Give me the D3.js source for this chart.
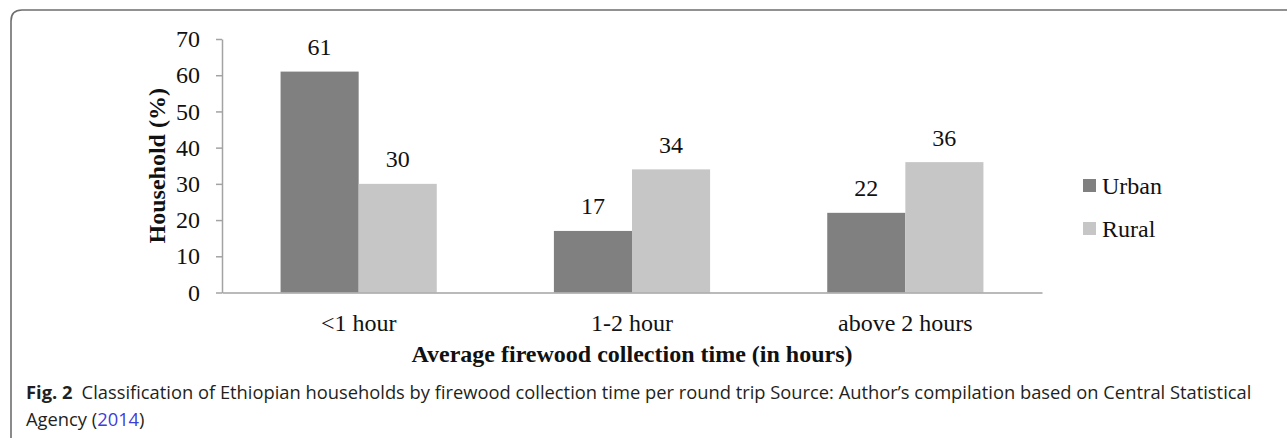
<!DOCTYPE html>
<html>
<head>
<meta charset="utf-8">
<script src="https://cdn.jsdelivr.net/npm/d3@7"></script>
<style>
  html, body { margin: 0; padding: 0; background: #fff; }
  svg { display: block; }
</style>
</head>
<body>
<svg id="chart" width="1287" height="438"></svg>
<script>
// Firewood collection time by household type (share of households, %)
const categories = ["<1 hour", "1-2 hour", "above 2 hours"];
const seriesNames = ["Urban", "Rural"];
const urbanValues = [61, 17, 22];
const ruralValues = [30, 34, 36];
const yTicks = [0, 10, 20, 30, 40, 50, 60, 70];
const seriesColors = ["#808080", "#c6c6c6"];

const svg = d3.select("#chart");
const serif = "'Liberation Serif', 'Times New Roman', serif";
const sans = "'Open Sans', 'Noto Sans', sans-serif";
const axisColor = "#a3a3a3";
const fs = 24;

// figure frame with rounded top-left corner
svg.append("path")
  .attr("d", "M11,438 L11,21 Q11,10 22,10 L1287,10")
  .attr("fill", "none")
  .attr("stroke", "#6e6e6e")
  .attr("stroke-width", 1.6);

const y = d3.scaleLinear().domain([0, 70]).range([292.5, 39]);
const x0 = d3.scaleBand().domain(categories).range([222, 1042]).padding(0);
const x1 = d3.scaleBand().domain(seriesNames).range([0, x0.bandwidth()])
  .paddingInner(0).paddingOuter(0.75);
const color = d3.scaleOrdinal().domain(seriesNames).range(seriesColors);

const rows = categories.map((c, i) => ({
  category: c,
  values: [
    { name: "Urban", value: urbanValues[i] },
    { name: "Rural", value: ruralValues[i] }
  ]
}));

// y axis
const yAxis = svg.append("g")
  .attr("transform", "translate(222,0)")
  .call(d3.axisLeft(y).tickValues(yTicks).tickSize(6).tickSizeOuter(0).tickPadding(16));
yAxis.select(".domain").attr("stroke", axisColor).attr("stroke-width", 1.5);
yAxis.selectAll(".tick line").attr("stroke", axisColor).attr("stroke-width", 1.5);
yAxis.selectAll(".tick text")
  .attr("font-family", serif).attr("font-size", fs).attr("fill", "#111");

// bars
const groups = svg.append("g").selectAll("g")
  .data(rows).join("g")
  .attr("transform", d => `translate(${x0(d.category)},0)`);

groups.selectAll("rect")
  .data(d => d.values).join("rect")
  .attr("x", d => x1(d.name))
  .attr("width", x1.bandwidth())
  .attr("y", d => y(d.value))
  .attr("height", d => y(0) - y(d.value))
  .attr("fill", d => color(d.name));

// value labels
groups.selectAll("text.val")
  .data(d => d.values).join("text")
  .attr("class", "val")
  .attr("x", d => x1(d.name) + x1.bandwidth() / 2)
  .attr("y", d => y(d.value) - 16.5)
  .attr("text-anchor", "middle")
  .attr("font-family", serif).attr("font-size", fs).attr("fill", "#111")
  .text(d => d.value);

// x axis
const xAxis = svg.append("g")
  .attr("transform", `translate(0,${y(0)})`)
  .call(d3.axisBottom(x0).tickSize(0).tickPadding(21));
xAxis.select(".domain").attr("stroke", axisColor).attr("stroke-width", 1.5);
xAxis.selectAll(".tick text")
  .attr("font-family", serif).attr("font-size", fs).attr("fill", "#111");

// axis titles
svg.append("text")
  .attr("x", 632).attr("y", 362)
  .attr("text-anchor", "middle")
  .attr("font-family", serif).attr("font-size", fs).attr("font-weight", "bold").attr("fill", "#111")
  .text("Average firewood collection time (in hours)");

svg.append("text")
  .attr("transform", `translate(165,${(y(0) + y(70)) / 2}) rotate(-90)`)
  .attr("text-anchor", "middle")
  .attr("font-family", serif).attr("font-size", fs).attr("font-weight", "bold").attr("fill", "#111")
  .text("Household (%)");

// legend
const legend = svg.append("g").selectAll("g")
  .data(seriesNames).join("g")
  .attr("transform", (d, i) => `translate(1083,${179 + i * 43})`);
legend.append("rect")
  .attr("width", 13).attr("height", 13)
  .attr("fill", d => color(d));
legend.append("text")
  .attr("x", 19).attr("y", 15)
  .attr("font-family", serif).attr("font-size", fs).attr("fill", "#111")
  .text(d => d);

// caption
const cap1 = svg.append("text")
  .attr("x", 26).attr("y", 399)
  .attr("font-family", sans).attr("font-size", 18).attr("fill", "#231f20");
cap1.append("tspan").attr("font-weight", "bold").text("Fig. 2");
cap1.append("tspan").text("\u2002Classification of Ethiopian households by firewood collection time per round trip Source: Author\u2019s compilation based on Central Statistical");

const cap2 = svg.append("text")
  .attr("x", 26).attr("y", 426)
  .attr("font-family", sans).attr("font-size", 18).attr("fill", "#231f20");
cap2.append("tspan").text("Agency (");
cap2.append("tspan").attr("fill", "#3d3dd8").text("2014");
cap2.append("tspan").text(")");

// fit caption width to the text block
const w1 = cap1.node().getComputedTextLength();
const target = 1226;
const k = target / w1;
cap1.attr("transform", `translate(26,0) scale(${k},1) translate(-26,0)`);
cap2.attr("transform", `translate(26,0) scale(${k},1) translate(-26,0)`);
</script>
</body>
</html>
